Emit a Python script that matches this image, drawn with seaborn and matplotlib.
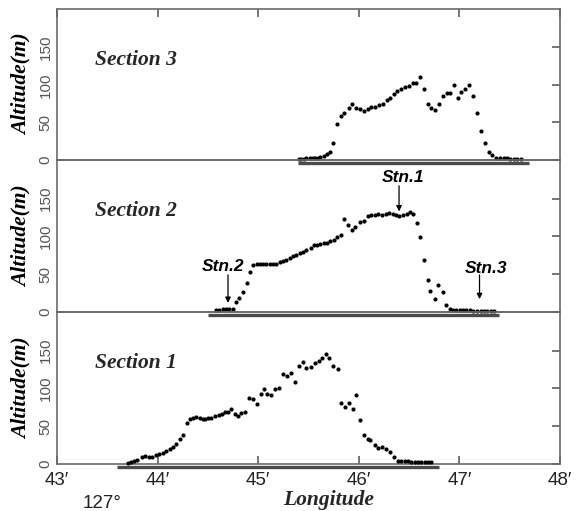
import matplotlib
matplotlib.use("Agg")
import matplotlib.pyplot as plt
import seaborn as sns
import pandas as pd

# ---------------- data (longitude in minutes past 127°, altitude in m) ----------------
lon3 = [45.41, 45.43, 45.46, 45.48, 45.51, 45.54, 45.56, 45.59, 45.61, 45.65, 45.68, 45.71,
        45.74, 45.78, 45.82, 45.85, 45.90, 45.93, 45.97, 46.01, 46.05, 46.09, 46.12, 46.16,
        46.20, 46.24, 46.28, 46.31, 46.35, 46.38, 46.42, 46.46, 46.50, 46.54, 46.57, 46.61,
        46.65, 46.69, 46.72, 46.76, 46.80, 46.84, 46.88, 46.91, 46.95, 46.99, 47.02, 47.06,
        47.10, 47.14, 47.17, 47.21, 47.25, 47.29, 47.32, 47.36, 47.40, 47.44, 47.47, 47.50,
        47.54, 47.57, 47.61]
alt3 = [1, 1.3, 1.7, 2.2, 2.6, 2.6, 2.2, 2.2, 3.6, 5.3, 7.6, 10,
        22.5, 48, 58, 63, 69, 75, 68.6, 67.6, 65, 68, 70, 71,
        73, 75, 80.5, 83, 87.5, 92, 94, 97, 98, 102, 103, 110,
        94, 75, 69, 67, 75, 85, 89, 89, 100, 82, 91, 95,
        99.5, 85, 63, 39, 22, 11, 6.6, 3.1, 2.6, 2.2, 2.2, 1.8,
        1.8, 1.3, 1]

lon2 = [44.58, 44.61, 44.65, 44.68, 44.71, 44.75, 44.78, 44.81, 44.85, 44.89, 44.92, 44.95,
        44.99, 45.02, 45.05, 45.08, 45.12, 45.15, 45.18, 45.22, 45.25, 45.28, 45.32, 45.35,
        45.38, 45.42, 45.45, 45.48, 45.52, 45.55, 45.58, 45.61, 45.65, 45.68, 45.71, 45.75,
        45.78, 45.82, 45.85, 45.89, 45.93, 45.96, 46.01, 46.05, 46.09, 46.12, 46.16, 46.19,
        46.23, 46.27, 46.30, 46.34, 46.37, 46.40, 46.44, 46.48, 46.51, 46.54, 46.58, 46.61,
        46.65, 46.69, 46.71, 46.76, 46.79, 46.84, 46.87, 46.91, 46.94, 46.97, 47.01, 47.04,
        47.07, 47.11, 47.14, 47.17, 47.21, 47.24, 47.27, 47.31, 47.34]
alt2 = [2.7, 3.1, 3.5, 3.5, 4, 4, 13.7, 19, 27, 38.9, 53.5, 62.4,
        63.3, 64, 64, 63.5, 64, 64, 63.5, 66, 68, 69.4, 72, 74,
        75.7, 77.4, 79.2, 81.4, 84.6, 88, 88.9, 89.9, 90.7, 91.6, 93.3, 95.2,
        98.6, 102, 123.5, 115.5, 108.9, 112.8, 118.5, 120.8, 126.5, 128.8, 128.8, 129.7,
        128.8, 129.7, 131, 129.7, 127.9, 126.5, 128.8, 129.7, 131.8, 129.7, 117.2, 98.6,
        69.4, 42.5, 27.9, 16.8, 35.4, 27, 9.3, 4, 2.7, 2.5, 2.3, 2.2,
        2, 2, 1.8, 1.8, 1.6, 1.6, 1.5, 1.5, 1.5]

lon1 = [43.71, 43.74, 43.77, 43.80, 43.84, 43.87, 43.91, 43.94, 43.98, 44.01, 44.05, 44.08,
        44.12, 44.15, 44.18, 44.22, 44.25, 44.29, 44.32, 44.35, 44.38, 44.42, 44.45, 44.47,
        44.50, 44.53, 44.57, 44.61, 44.64, 44.67, 44.70, 44.73, 44.77, 44.80, 44.83, 44.87,
        44.91, 44.95, 44.99, 45.03, 45.06, 45.09, 45.13, 45.17, 45.21, 45.25, 45.29, 45.33,
        45.37, 45.41, 45.45, 45.48, 45.52, 45.56, 45.60, 45.63, 45.67, 45.70, 45.74, 45.79,
        45.82, 45.86, 45.90, 45.94, 45.97, 46.01, 46.05, 46.09, 46.11, 46.16, 46.19, 46.23,
        46.27, 46.31, 46.35, 46.39, 46.42, 46.46, 46.49, 46.52, 46.56, 46.59, 46.62, 46.66,
        46.69, 46.72]
alt1 = [1.8, 2.6, 3.5, 5.3, 9.7, 11, 9.7, 9.3, 12.3, 13.2, 15, 17.2,
        19.9, 22.9, 26.5, 33.1, 38.4, 54.7, 59.2, 60.9, 61.9, 60.9, 60, 59.2,
        60.9, 60.9, 63.6, 64.9, 66.2, 68.9, 69.3, 73.2, 65.8, 63.6, 68, 68.5,
        87.8, 86.1, 79.5, 92.7, 99.7, 92.3, 91, 99, 101, 119, 117, 120.5,
        109, 130, 134.7, 127.5, 128, 133.4, 136.4, 140.8, 145.3, 140.4, 129, 125,
        80.8, 76, 81.2, 73.2, 91.4, 58.3, 38.4, 32.7, 31.8, 25.6, 21.6, 22.5,
        19.9, 15.9, 8.9, 4.4, 4, 3.8, 3.5, 3.3, 3, 2.8, 2.6, 2.4,
        2.2, 2]

section_names = ["Section 3", "Section 2", "Section 1"]
section_extent = [(45.40, 47.69), (44.50, 47.39), (43.60, 46.80)]

stations = ["Stn.1", "Stn.2", "Stn.3"]
station_lon = [46.40, 44.70, 47.20]
station_tip = [133, 12, 17]

xticks = [43, 44, 45, 46, 47, 48]
xticklabels = ["43\u2032", "44\u2032", "45\u2032", "46\u2032", "47\u2032", "48\u2032"]
yticks = [0, 50, 100, 150]

# ---------------- style ----------------
sns.set_style("ticks")
SANS = ["Liberation Sans", "DejaVu Sans"]
SERIF = ["Liberation Serif", "DejaVu Serif"]
SPINE = "#6a6a6a"
plt.rcParams.update({
    "font.family": SANS,
    "xtick.direction": "in", "ytick.direction": "in",
    "xtick.major.size": 6, "ytick.major.size": 6,
    "xtick.major.width": 1.3, "ytick.major.width": 1.3,
    "xtick.color": SPINE, "ytick.color": SPINE,
})

fig = plt.figure(figsize=(5.84, 5.11), dpi=100)

left = 57 / 584
width = (560 - 57) / 584
panels_px = [(9, 160), (160, 312), (312, 464)]

data = [(lon3, alt3), (lon2, alt2), (lon1, alt1)]
axes = []
for i, ((top, bot), (lo, al)) in enumerate(zip(panels_px, data)):
    ax = fig.add_axes([left, 1 - bot / 511, width, (bot - top) / 511])
    ax.patch.set_visible(False)
    df = pd.DataFrame({"lon": lo, "alt": al})
    sns.scatterplot(data=df, x="lon", y="alt", ax=ax, color="black", s=9,
                    linewidth=0, clip_on=False, zorder=5)
    x0, x1 = section_extent[i]
    ax.plot([x0, x1], [-4, -4], color="#4a4a4a", lw=2.4, clip_on=False,
            solid_capstyle="butt", zorder=4)
    ax.set_xlim(43, 48)
    ax.set_ylim(0, 201)
    for sp in ax.spines.values():
        sp.set_visible(True)
        sp.set_color(SPINE)
        sp.set_linewidth(1.2)
    ax.set_yticks(yticks)
    ax.set_yticklabels([str(v) for v in yticks], rotation=90, va="center",
                       fontsize=11, color="#555555")
    ax.yaxis.set_ticks_position("right")
    ax.yaxis.set_label_position("left")
    ax.tick_params(axis="y", labelleft=True, labelright=False, pad=3)
    ax.set_ylabel("Altitude(m)", fontfamily=SERIF, fontweight="bold",
                  fontstyle="italic", fontsize=15.5, labelpad=5, color="black")
    ax.set_xlabel("")
    ax.text(0.0755, 0.665, section_names[i], transform=ax.transAxes,
            fontfamily=SERIF, fontweight="bold", fontstyle="italic",
            fontsize=15.5, ha="left", va="center")
    ax.set_xticks(xticks)
    if i == 0:
        ax.xaxis.set_ticks_position("top")
        ax.tick_params(axis="x", labelbottom=False, labeltop=False)
    elif i == 2:
        ax.set_xticklabels(xticklabels, fontsize=13.5, color="#222222")
        ax.xaxis.set_ticks_position("bottom")
        ax.tick_params(axis="x", pad=6)
    else:
        ax.tick_params(axis="x", bottom=False, top=False, labelbottom=False)
    axes.append(ax)

# station annotations on Section 2
ax2 = axes[1]
label_pos = [(46.44, 178), (44.65, 60), (47.26, 58)]
arrow_start = [167, 49, 49]
for name, lx, tip, (tx, ty), ys in zip(stations, station_lon, station_tip, label_pos, arrow_start):
    ax2.text(tx, ty, name, fontsize=12.5, fontstyle="italic", fontweight="bold",
             ha="center", va="center", color="black")
    ax2.annotate("", xy=(lx, tip), xytext=(lx, ys),
                 arrowprops=dict(arrowstyle="-|>", color="black", lw=0.9,
                                 mutation_scale=8, shrinkA=0, shrinkB=0))

fig.text(329 / 584, 1 - 505 / 511, "Longitude", fontfamily=SERIF, fontweight="bold",
         fontstyle="italic", fontsize=15.5, ha="center", va="baseline")
fig.text(102 / 584, 1 - 508 / 511, "127\u00b0", fontsize=13.5, ha="center",
         va="baseline", color="#222222")

fig.savefig("out.png", dpi=100, facecolor="white")
